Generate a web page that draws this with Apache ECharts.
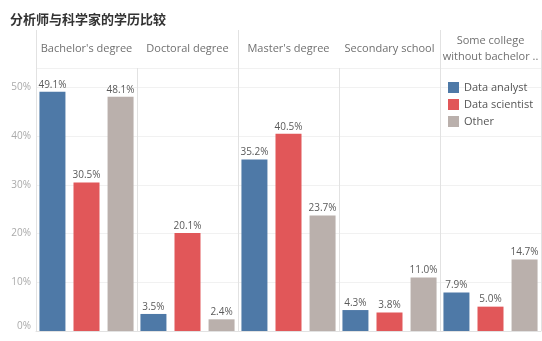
<!DOCTYPE html>
<html>
<head>
<meta charset="utf-8">
<script src="https://cdn.jsdelivr.net/npm/echarts@6/dist/echarts.min.js"></script>
<style>
  html, body { margin: 0; padding: 0; background: #fff; }
  #chart { width: 542px; height: 341px; }
</style>
</head>
<body>
<div id="chart"></div>
<script>
// Education level of analysts vs. scientists (share of respondents, %)
const categories = [
  "Bachelor's degree",
  'Doctoral degree',
  "Master's degree",
  'Secondary school',
  'Some college\nwithout bachelor ..'
];
const dataAnalyst   = [49.1, 3.5, 35.2, 4.3, 7.9];
const dataScientist = [30.5, 20.1, 40.5, 3.8, 5.0];
const other         = [48.1, 2.4, 23.7, 11.0, 14.7];
const seriesNames  = ['Data analyst', 'Data scientist', 'Other'];
const seriesColors = ['#4e79a7', '#e15759', '#bab0ac'];
const yTicks = [0, 10, 20, 30, 40, 50];

const FONT = '"Open Sans", "Noto Sans", sans-serif';
const LINE = '#e2e2e2';

const chart = echarts.init(document.getElementById('chart'), null, { renderer: 'canvas' });

const barLabel = {
  show: true,
  position: 'top',
  distance: 2,
  fontSize: 10,
  fontFamily: FONT,
  color: '#5a5a5a',
  formatter: p => p.value.toFixed(1) + '%'
};

const seriesData = [dataAnalyst, dataScientist, other];

chart.setOption({
  animation: false,
  textStyle: { fontFamily: FONT },
  title: {
    text: '分析师与科学家的学历比较',
    left: 5,
    top: 8,
    textStyle: {
      fontFamily: '"Noto Sans CJK SC", sans-serif',
      fontSize: 13,
      fontWeight: 'bold',
      color: '#333'
    }
  },
  legend: {
    orient: 'vertical',
    left: 443,
    top: 78,
    padding: [4, 5, 4, 5],
    itemWidth: 11,
    itemHeight: 11,
    itemGap: 6,
    icon: 'rect',
    textStyle: { fontSize: 11, color: '#555', fontFamily: FONT },
    data: seriesNames
  },
  grid: [
    // header row holding the category titles
    { left: 36, right: 1, top: 30, height: 38 },
    // plot area
    { left: 36, right: 1, top: 68, bottom: 10 }
  ],
  xAxis: [
    {
      gridIndex: 0,
      type: 'category',
      data: categories,
      axisLine: { show: false },
      axisTick: { show: false },
      axisLabel: { show: false },
      splitLine: { show: true, lineStyle: { color: LINE, width: 1 } }
    },
    {
      gridIndex: 1,
      type: 'category',
      data: categories,
      position: 'top',
      axisLine: { show: true, lineStyle: { color: LINE } },
      axisTick: { show: false },
      axisLabel: {
        margin: 19,
        verticalAlign: 'middle',
        fontSize: 11,
        lineHeight: 16,
        color: '#707070',
        fontFamily: FONT,
        interval: 0
      },
      splitLine: { show: true, lineStyle: { color: LINE, width: 1 } }
    }
  ],
  yAxis: [
    { gridIndex: 0, type: 'value', show: false },
    {
      gridIndex: 1,
      type: 'value',
      min: 0,
      max: 54,
      interval: 10,
      axisLine: { show: false },
      axisTick: { show: false },
      axisLabel: {
        margin: 5,
        fontSize: 10,
        color: '#aaa',
        fontFamily: FONT,
        showMaxLabel: false,
        // the 0% label sits just above the baseline
        formatter: v => (yTicks.includes(v) ? (v === 0 ? '{z|0%}' : v + '%') : ''),
        rich: { z: { fontSize: 10, color: '#aaa', fontFamily: FONT, padding: [0, 0, 10, 0] } }
      },
      splitLine: { show: true, lineStyle: { color: '#f1f1f1' } }
    }
  ],
  series: seriesNames.map((name, i) => ({
    name,
    type: 'bar',
    xAxisIndex: 1,
    yAxisIndex: 1,
    data: seriesData[i],
    barWidth: 26,
    barGap: '31%',
    itemStyle: { color: seriesColors[i] },
    label: barLabel
  }))
});
</script>
</body>
</html>
